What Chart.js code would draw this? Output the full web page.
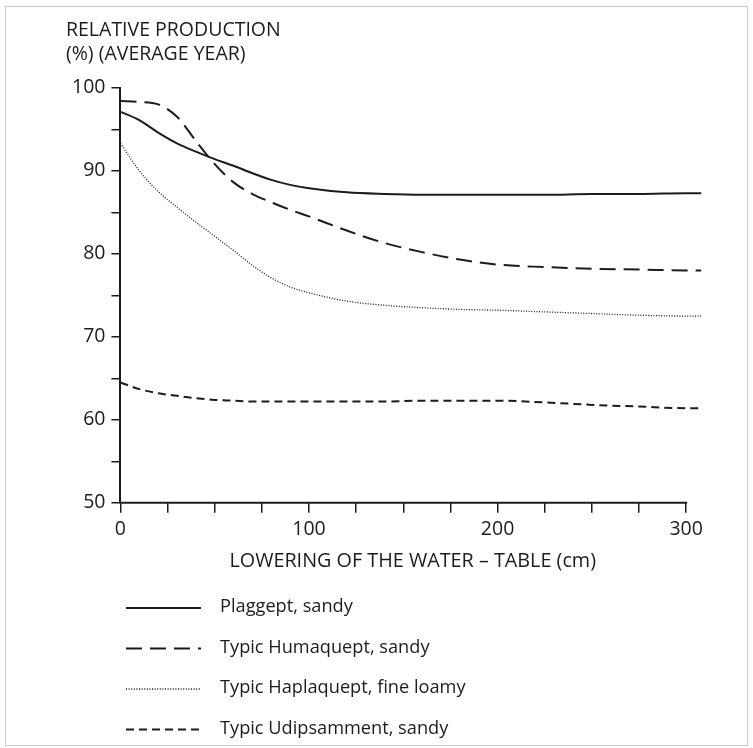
<!DOCTYPE html>
<html>
<head>
<meta charset="utf-8">
<script src="https://cdn.jsdelivr.net/npm/chart.js@4.4.1/dist/chart.umd.min.js"></script>
<style>
  html, body { margin: 0; padding: 0; background: #fff; }
  #frame { position: absolute; left: 5px; top: 6px; width: 741px; height: 738px; border: 1px solid #c9c9dc; }
  #wrap { position: absolute; left: 0; top: 0; width: 753px; height: 748px; }
</style>
</head>
<body>
<div id="frame"></div>
<div id="wrap"><canvas id="myChart"></canvas></div>
<script>
// lowering of the water-table (cm)
var depth = [0, 10, 20, 30, 40, 50, 60, 70, 80, 90, 100, 120, 140, 160, 180, 200, 225, 250, 275, 300, 308];

// relative production (%) per soil
var plaggept   = [97.1, 96.1, 94.6, 93.3, 92.3, 91.4, 90.6, 89.7, 88.9, 88.3, 87.9, 87.4, 87.2, 87.1, 87.1, 87.1, 87.1, 87.2, 87.2, 87.3, 87.3];
var humaquept  = [98.4, 98.3, 98.0, 96.5, 93.6, 90.8, 88.6, 87.2, 86.2, 85.3, 84.5, 82.8, 81.3, 80.2, 79.3, 78.7, 78.4, 78.2, 78.1, 78.0, 78.0];
var haplaquept = [93.3, 90.0, 87.5, 85.6, 83.8, 82.1, 80.4, 78.6, 77.1, 76.0, 75.3, 74.3, 73.8, 73.5, 73.3, 73.2, 73.0, 72.8, 72.6, 72.5, 72.5];
var udipsamm   = [64.5, 63.7, 63.2, 62.9, 62.6, 62.4, 62.3, 62.2, 62.2, 62.2, 62.2, 62.2, 62.2, 62.3, 62.3, 62.3, 62.1, 61.8, 61.6, 61.4, 61.4];

var seriesNames = ['Plaggept, sandy', 'Typic Humaquept, sandy', 'Typic Haplaquept, fine loamy', 'Typic Udipsamment, sandy'];

var yTitle = ['RELATIVE PRODUCTION', '(%) (AVERAGE YEAR)'];
var xTitle = 'LOWERING OF THE WATER \u2013 TABLE (cm)';
var xAxisEnd = 300; // axis line stops at the last labelled tick

var ink = '#1c1c1c';
var fontName = "'Open Sans', sans-serif";

function pts(vals) {
    return vals.map(function(v, i) { return {x: depth[i], y: v}; });
}

function mkSet(label, vals, dash, width) {
    return {
        label: label,
        data: pts(vals),
        borderColor: ink,
        borderWidth: width,
        borderDash: dash,
        pointRadius: 0,
        fill: false,
        cubicInterpolationMode: 'monotone'
    };
}

// x axis line only up to 300, the curves run on a little
var xAxisLine = {
    id: 'xAxisLine',
    afterDraw: function(chart) {
        var ctx = chart.ctx, xs = chart.scales.x;
        var y = chart.chartArea.bottom;
        ctx.save();
        ctx.strokeStyle = ink;
        ctx.lineWidth = 2;
        ctx.beginPath();
        ctx.moveTo(xs.getPixelForValue(xs.min) - 1, y);
        ctx.lineTo(xs.getPixelForValue(xAxisEnd) + 1, y);
        ctx.stroke();
        ctx.restore();
    }
};

// legend drawn under the plot, one entry per row
var legendRows = {
    id: 'legendRows',
    afterDraw: function(chart) {
        var ctx = chart.ctx;
        ctx.save();
        chart.data.datasets.forEach(function(ds, i) {
            var y = 608 + i * 40.5;
            ctx.strokeStyle = ds.borderColor;
            ctx.lineWidth = ds.borderWidth;
            ctx.setLineDash(ds.borderDash || []);
            ctx.beginPath();
            ctx.moveTo(126, y);
            ctx.lineTo(201, y);
            ctx.stroke();
            ctx.setLineDash([]);
            ctx.fillStyle = ink;
            ctx.font = "18.2px " + fontName;
            ctx.textBaseline = 'middle';
            ctx.fillText(ds.label, 220, y - 1);
        });
        ctx.restore();
    }
};

window.onload = function() {
    var ctx = document.getElementById('myChart').getContext('2d');
    window.myLine = new Chart(ctx, {
        type: 'line',
        data: {
            datasets: [
                mkSet(seriesNames[0], plaggept, [], 2),
                mkSet(seriesNames[1], humaquept, [16, 8], 2),
                mkSet(seriesNames[2], haplaquept, [1, 1.6], 1.3),
                mkSet(seriesNames[3], udipsamm, [8, 5], 2)
            ]
        },
        options: {
            responsive: true,
            maintainAspectRatio: false,
            animation: false,
            layout: { padding: { left: 66, right: 48, top: 18, bottom: 171 } },
            plugins: {
                legend: { display: false },
                tooltip: { enabled: false },
                title: {
                    display: true,
                    text: yTitle,
                    align: 'start',
                    color: ink,
                    font: { family: fontName, size: 19.5, weight: 'normal', lineHeight: 1.25 },
                    padding: { top: 0, bottom: 21 }
                }
            },
            scales: {
                x: {
                    type: 'linear',
                    min: 0,
                    max: 310,
                    border: { display: false },
                    grid: { drawOnChartArea: false, color: ink, lineWidth: 1.5, tickLength: 10 },
                    ticks: {
                        stepSize: 25,
                        includeBounds: false,
                        color: ink,
                        font: { family: fontName, size: 19.5 },
                        padding: 5,
                        maxRotation: 0,
                        autoSkip: false,
                        callback: function(v) { return v % 100 === 0 ? String(v) : ''; }
                    },
                    title: {
                        display: true,
                        text: xTitle,
                        color: ink,
                        font: { family: fontName, size: 19.8 },
                        padding: { top: 3 }
                    }
                },
                y: {
                    min: 50,
                    max: 100,
                    border: { color: ink, width: 2 },
                    grid: { drawOnChartArea: false, color: ink, lineWidth: 1.5, tickLength: 9 },
                    ticks: {
                        stepSize: 5,
                        color: ink,
                        font: { family: fontName, size: 19.5 },
                        padding: 6,
                        autoSkip: false,
                        callback: function(v) { return v % 10 === 0 ? String(v) : ''; }
                    }
                }
            }
        },
        plugins: [xAxisLine, legendRows]
    });
};
</script>
</body>
</html>
